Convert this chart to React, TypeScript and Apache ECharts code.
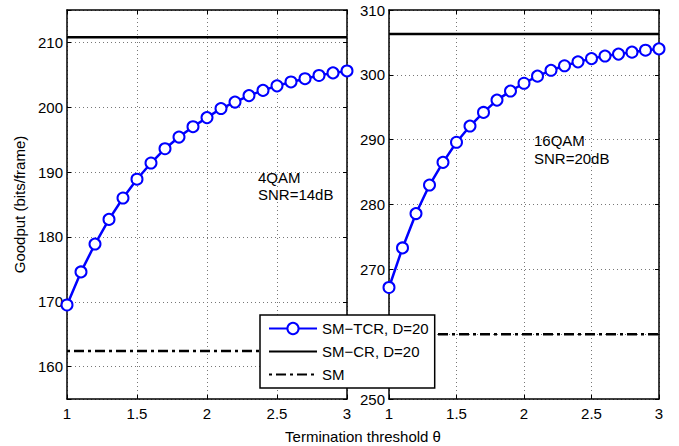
import React, { useEffect, useRef } from 'react';
import * as echarts from 'echarts';

const thresholds = [1.0, 1.1, 1.2, 1.3, 1.4, 1.5, 1.6, 1.7, 1.8, 1.9, 2.0, 2.1, 2.2, 2.3, 2.4, 2.5, 2.6, 2.7, 2.8, 2.9, 3.0];
const tcr4qam = [169.5, 174.6, 178.9, 182.7, 186.0, 188.9, 191.4, 193.6, 195.4, 197.0, 198.4, 199.8, 200.8, 201.8, 202.6, 203.3, 203.9, 204.4, 204.9, 205.3, 205.6];
const tcr16qam = [267.2, 273.3, 278.6, 283.0, 286.5, 289.6, 292.1, 294.2, 296.1, 297.5, 298.7, 299.8, 300.7, 301.4, 302.0, 302.5, 302.9, 303.2, 303.5, 303.8, 304.0];
const crLevels = [210.8, 306.3];
const smLevels = [162.4, 260.0];
const yRanges = [[155, 215], [250, 310]];
const hiddenYLabels = [[], [260]];
const xRange = [1, 3];
const seriesNames = ['SM\u2212TCR, D=20', 'SM\u2212CR, D=20', 'SM'];
const annotations = [['4QAM', 'SNR=14dB'], ['16QAM', 'SNR=20dB']];
const xTitle = 'Termination threshold \u03b8';
const yTitle = 'Goodput (bits/frame)';

const FONT = 'Liberation Sans, Arial, sans-serif';

export default function App() {
  const ref = useRef<HTMLDivElement>(null);
  useEffect(() => {
    if (!ref.current) return;
    const chart = echarts.init(ref.current, undefined, { renderer: 'svg' });
    const grids = [
      { left: 67, top: 10, width: 280, height: 389 },
      { left: 389, top: 10, width: 270, height: 389 },
    ];
    const axisLine = { show: true, lineStyle: { color: '#000', width: 1.5 } };
    const tick = { show: true, inside: true, length: 4, lineStyle: { color: '#000', width: 1 } };
    const split = { show: true, lineStyle: { color: '#777', type: [1, 3], width: 1 } };
    const xAxes: any[] = [];
    const yAxes: any[] = [];
    [0, 1].forEach((g) => {
      xAxes.push({
        type: 'value', gridIndex: g, min: xRange[0], max: xRange[1], interval: 0.5, position: 'bottom',
        axisLine, axisTick: tick, splitLine: split,
        axisLabel: { color: '#000', fontSize: 15, fontFamily: FONT, margin: 7 },
      });
      xAxes.push({
        type: 'value', gridIndex: g, min: xRange[0], max: xRange[1], interval: 0.5, position: 'top',
        axisLine, axisTick: tick, splitLine: { show: false }, axisLabel: { show: false },
      });
      yAxes.push({
        type: 'value', gridIndex: g, min: yRanges[g][0], max: yRanges[g][1], splitNumber: 6, position: 'left',
        axisLine, axisTick: tick, splitLine: split,
        axisLabel: {
          color: '#000', fontSize: 15, fontFamily: FONT, margin: 4,
          formatter: (v: number) =>
            Math.abs(v % 10) < 1e-9 && !(hiddenYLabels[g] as number[]).includes(v) ? String(v) : '',
        },
        name: g === 0 ? yTitle : '',
        nameLocation: 'middle', nameGap: 40,
        nameTextStyle: { color: '#000', fontSize: 15, fontFamily: FONT },
      });
      yAxes.push({
        type: 'value', gridIndex: g, min: yRanges[g][0], max: yRanges[g][1], splitNumber: 6, position: 'right',
        axisLine, axisTick: tick, splitLine: { show: false }, axisLabel: { show: false },
      });
    });
    const series: any[] = [];
    const tcrSets = [tcr4qam, tcr16qam];
    [0, 1].forEach((g) => {
      const xi = g * 2;
      const yi = g * 2;
      series.push({
        name: seriesNames[0], type: 'line', xAxisIndex: xi, yAxisIndex: yi,
        data: thresholds.map((t, i) => [t, tcrSets[g][i]]),
        symbol: 'emptyCircle', symbolSize: 11, showSymbol: true,
        lineStyle: { color: '#0000ff', width: 2.5 },
        itemStyle: { color: '#0000ff', borderColor: '#0000ff', borderWidth: 2.2 },
        z: 3,
      });
      series.push({
        name: seriesNames[1], type: 'line', xAxisIndex: xi, yAxisIndex: yi,
        data: [[xRange[0], crLevels[g]], [xRange[1], crLevels[g]]],
        symbol: 'none', lineStyle: { color: '#000', width: 2.5 }, itemStyle: { color: '#000' },
      });
      series.push({
        name: seriesNames[2], type: 'line', xAxisIndex: xi, yAxisIndex: yi,
        data: [[xRange[0], smLevels[g]], [xRange[1], smLevels[g]]],
        symbol: 'none', lineStyle: { color: '#000', width: 2.5, type: [10, 4, 3, 4], dashOffset: 14 },
        itemStyle: { color: '#000' },
      });
    });
    const annPos = [[258, 177, 194], [534, 140.5, 158]];
    const graphic: any[] = [];
    annotations.forEach((lines, g) => {
      lines.forEach((txt, j) => {
        graphic.push({
          type: 'text', x: annPos[g][0], y: annPos[g][1 + j],
          style: { text: txt, fill: '#000', font: `15px ${FONT}`, textAlign: 'left', textVerticalAlign: 'middle' },
        });
      });
    });
    graphic.push({
      type: 'text', x: 363, y: 436,
      style: { text: xTitle, fill: '#000', font: `15px ${FONT}`, textAlign: 'center', textVerticalAlign: 'middle' },
    });
    const noSymbol = { color: 'rgba(0,0,0,0)', borderColor: 'rgba(0,0,0,0)', borderWidth: 0 };
    chart.setOption({
      animation: false,
      backgroundColor: '#fff',
      textStyle: { fontFamily: FONT },
      grid: grids,
      xAxis: xAxes,
      yAxis: yAxes,
      series,
      legend: {
        data: [
          { name: seriesNames[0] },
          { name: seriesNames[1], itemStyle: noSymbol },
          { name: seriesNames[2], itemStyle: noSymbol },
        ],
        orient: 'vertical', left: 260, top: 315,
        backgroundColor: '#fff', borderColor: '#000', borderWidth: 1.5,
        padding: [6, 6, 6, 8], itemGap: 8, itemWidth: 48, itemHeight: 14,
        textStyle: { color: '#000', fontSize: 15, fontFamily: FONT },
        z: 10,
      },
      graphic,
    });
    return () => chart.dispose();
  }, []);
  return <div ref={ref} style={{ position: 'fixed', left: 0, top: 0, width: 679, height: 446 }} />;
}
